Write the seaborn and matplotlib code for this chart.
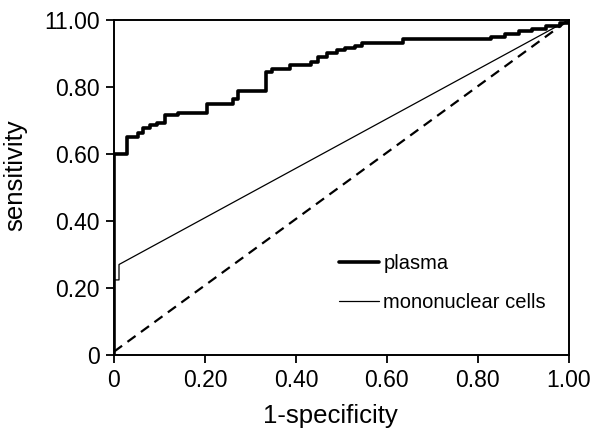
import matplotlib
matplotlib.use('Agg')
import matplotlib.pyplot as plt
import seaborn as sns

# ROC curve vertices
plasma_fpr = [0, 0, 0.029, 0.053, 0.064, 0.079, 0.094, 0.112, 0.141, 0.204, 0.262, 0.273,
              0.334, 0.347, 0.387, 0.433, 0.448, 0.468, 0.490, 0.508, 0.530, 0.545, 0.636,
              0.804, 0.83, 0.86, 0.89, 0.92, 0.95, 0.98, 1.0]
plasma_tpr = [0, 0.60, 0.651, 0.663, 0.678, 0.687, 0.693, 0.716, 0.722, 0.749, 0.764, 0.788,
              0.845, 0.854, 0.866, 0.875, 0.890, 0.901, 0.910, 0.916, 0.922, 0.931, 0.943,
              0.943, 0.95, 0.958, 0.966, 0.974, 0.983, 0.992, 1.0]

mono_fpr = [0, 0, 0.011, 0.011, 1.0]
mono_tpr = [0, 0.224, 0.224, 0.27, 1.0]

ref_fpr = [0, 1.0]
ref_tpr = [0.01, 1.0]

tick_vals = [0, 0.2, 0.4, 0.6, 0.8, 1.0]
x_labels = ['0', '0.20', '0.40', '0.60', '0.80', '1.00']
y_labels = ['0', '0.20', '0.40', '0.60', '0.80', '11.00']

sns.set_style('ticks')
plt.rcParams['font.family'] = ['Liberation Sans', 'DejaVu Sans']
plt.rcParams['text.color'] = 'black'
plt.rcParams['axes.labelcolor'] = 'black'
plt.rcParams['xtick.color'] = 'black'
plt.rcParams['ytick.color'] = 'black'

fig = plt.figure(figsize=(6, 4.41), dpi=100)
ax = fig.add_axes([0.19, 0.195, 0.758, 0.76])

sns.lineplot(x=plasma_fpr, y=plasma_tpr, sort=False, estimator=None, ax=ax,
             color='black', linewidth=2.6, drawstyle='steps-post', label='plasma')
sns.lineplot(x=mono_fpr, y=mono_tpr, sort=False, estimator=None, ax=ax,
             color='black', linewidth=0.9, label='mononuclear cells')
sns.lineplot(x=ref_fpr, y=ref_tpr, sort=False, estimator=None, ax=ax,
             color='black', linewidth=1.6)
ax.lines[-1].set_dashes([4.5, 3])

ax.set_xlim(0, 1)
ax.set_ylim(0, 1)
ax.set_xticks(tick_vals)
ax.set_xticklabels(x_labels)
ax.set_yticks(tick_vals)
ax.set_yticklabels(y_labels)
ax.tick_params(labelsize=16.5, length=6, width=1.3, pad=4, direction='out',
               color='black', labelcolor='black')
for s in ax.spines.values():
    s.set_linewidth(1.4)
    s.set_color('black')

ax.set_xlabel('1-specificity', fontsize=18.5, color='black')
ax.set_ylabel('sensitivity', fontsize=18.5, color='black')
ax.xaxis.set_label_coords(0.475, -0.145)
ax.yaxis.set_label_coords(-0.19, 0.536)

leg = ax.legend(loc='upper left', bbox_to_anchor=(0.455, 0.355), frameon=False, fontsize=14.5,
                handlelength=2.0, handletextpad=0.2, labelspacing=1.0)
for t in leg.get_texts():
    t.set_color('black')

fig.savefig('out.png', dpi=100)
